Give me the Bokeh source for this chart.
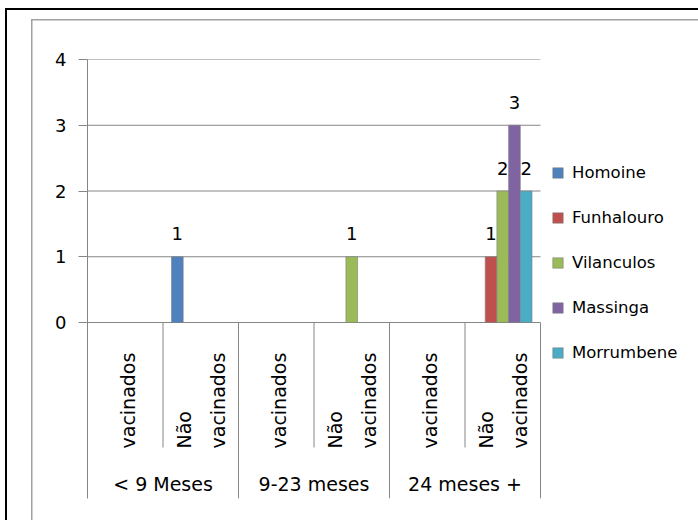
import math

from bokeh.core.properties import value
from bokeh.embed import file_html
from bokeh.models import ColumnDataSource, FixedTicker, Legend, LegendItem, Range1d
from bokeh.plotting import figure
from bokeh.resources import INLINE

# ---- data -------------------------------------------------------------
groups = ["< 9 Meses", "9-23 meses", "24 meses +"]
subgroups = ["vacinados", "Não vacinados"]
districts = ["Homoine", "Funhalouro", "Vilanculos", "Massinga", "Morrumbene"]
colors = ["#4F81BD", "#C0504D", "#9BBB59", "#8064A2", "#4BACC6"]

# one value per (age group, vaccination status) slot; None = empty cell
homoine = [None, 1, None, None, None, None]
funhalouro = [None, None, None, None, None, 1]
vilanculos = [None, None, None, 1, None, 2]
massinga = [None, None, None, None, None, 3]
morrumbene = [None, None, None, None, None, 2]
series = [homoine, funhalouro, vilanculos, massinga, morrumbene]

y_ticks = [0, 1, 2, 3, 4]

# ---- layout constants (pixels) ---------------------------------------
W, H = 698, 520
PLOT_L, PLOT_R, PLOT_T, PLOT_B = 87, 540, 59, 498   # bars + category band
ZERO_PX = 322                                      # where value 0 sits
PX_PER_UNIT = (ZERO_PX - PLOT_T) / max(y_ticks)
Y_MIN = -(PLOT_B - ZERO_PX) / PX_PER_UNIT

n_slots = len(groups) * len(subgroups)
SLOT_PX = (PLOT_R - PLOT_L) / n_slots
# the frame runs on to the right edge so the legend can sit inside it
X_END = (W - PLOT_L) / SLOT_PX


def below_zero(px):
    """data y for a pixel row inside the category band"""
    return -(px - ZERO_PX) / PX_PER_UNIT


GRAY = "#868686"
FONT = "DejaVu Sans"
bar_w = 0.155

# outer black frame and inner gray chart-area frame, painted as CSS
# backgrounds behind the (transparent) canvas border area
frame_css = {
    "background-color": "white",
    "background-image": ", ".join(["linear-gradient(#000, #000)"] * 2
                                  + ["linear-gradient(#a0a0a0, #a0a0a0)"] * 2),
    "background-size": "2px 100%, 100% 2px, 1.5px 100%, 100% 1.5px",
    "background-position": "5px 8px, 5px 8px, 30.5px 18.5px, 30.5px 18.5px",
    "background-repeat": "no-repeat",
}

p = figure(width=W, height=H, output_backend="svg", toolbar_location=None,
           x_range=Range1d(0, X_END), y_range=Range1d(Y_MIN, max(y_ticks)),
           x_axis_location=None,
           min_border_left=PLOT_L, min_border_right=0,
           min_border_top=PLOT_T, min_border_bottom=H - PLOT_B,
           styles=frame_css)
p.outline_line_color = None
p.background_fill_color = "white"
p.border_fill_color = None

# value axis
p.yaxis.ticker = FixedTicker(ticks=y_ticks)
p.yaxis.axis_line_color = GRAY
p.yaxis.major_tick_line_color = GRAY
p.yaxis.major_tick_out = 9
p.yaxis.major_tick_in = 0
p.yaxis.minor_tick_line_color = None
p.yaxis.major_label_standoff = 12
p.yaxis.major_label_text_font = FONT
p.yaxis.major_label_text_font_size = "18px"
p.yaxis.major_label_text_color = "black"
p.grid.visible = False

# horizontal gridlines over the bar area only
p.segment(x0=[0] * len(y_ticks), y0=y_ticks, x1=[n_slots] * len(y_ticks), y1=y_ticks,
          line_color=GRAY, line_width=1)

# clustered bars with value labels
legend_items = []
for i, (name, vals, col) in enumerate(zip(districts, series, colors)):
    offset = (i - (len(districts) - 1) / 2) * bar_w
    xs = [k + 0.5 + offset for k, v in enumerate(vals) if v is not None]
    tops = [v for v in vals if v is not None]
    src = ColumnDataSource(dict(x=xs, top=tops, lbl=[str(v) for v in tops]))
    r = p.vbar(x="x", top="top", bottom=0, width=bar_w, source=src,
               fill_color=col, line_color="#7f7f7f", line_alpha=0.6, line_width=1)
    p.text(x="x", y="top", text="lbl", source=src, text_align="center",
           text_baseline="alphabetic", y_offset=-23,
           text_font=value(FONT), text_font_size="18px", text_color="black")
    legend_items.append(LegendItem(label=name, renderers=[r]))

# category band: separators
sub_sep_bottom = below_zero(447)
sub_x = [g * 2 + 1 for g in range(len(groups))]
grp_x = [g * 2 + 2 for g in range(len(groups))]
p.segment(x0=sub_x, y0=[0] * len(sub_x), x1=sub_x, y1=[sub_sep_bottom] * len(sub_x),
          line_color=GRAY, line_width=1)
p.segment(x0=grp_x, y0=[0] * len(grp_x), x1=grp_x, y1=[Y_MIN] * len(grp_x),
          line_color=GRAY, line_width=1)

# category band: rotated status labels (one glyph per wrapped line)
line_gap = 0.225
lx, ly, lt = [], [], []
for g in range(len(groups)):
    for s, name in enumerate(subgroups):
        center = g * 2 + s + 0.5
        words = name.split(" ")
        n = len(words)
        for j, w in enumerate(words):
            lx.append(center + (j - (n - 1) / 2) * 2 * line_gap + (0.03 if n == 1 else 0))
            ly.append(below_zero(448))
            lt.append(w)
p.text(x=lx, y=ly, text=lt, angle=math.pi / 2, text_align="left",
       text_baseline="middle", text_font=value(FONT), text_font_size="19px",
       text_color="black")

# category band: age-group labels
p.text(x=[g * 2 + 1 for g in range(len(groups))], y=[below_zero(483)] * len(groups),
       text=groups, text_align="center", text_baseline="middle",
       text_font=value(FONT), text_font_size="19px", text_color="black")

# legend to the right of the bars
legend = Legend(items=legend_items, location=(551 - PLOT_L, PLOT_B - 363),
                orientation="vertical", glyph_width=13, glyph_height=13,
                label_height=22, spacing=23, padding=0, margin=0,
                label_standoff=8, label_text_font=FONT,
                label_text_font_size="16.5px", label_text_color="black",
                border_line_color=None, background_fill_alpha=0)
p.add_layout(legend, "center")

open("out.html", "w").write(file_html(p, INLINE))
